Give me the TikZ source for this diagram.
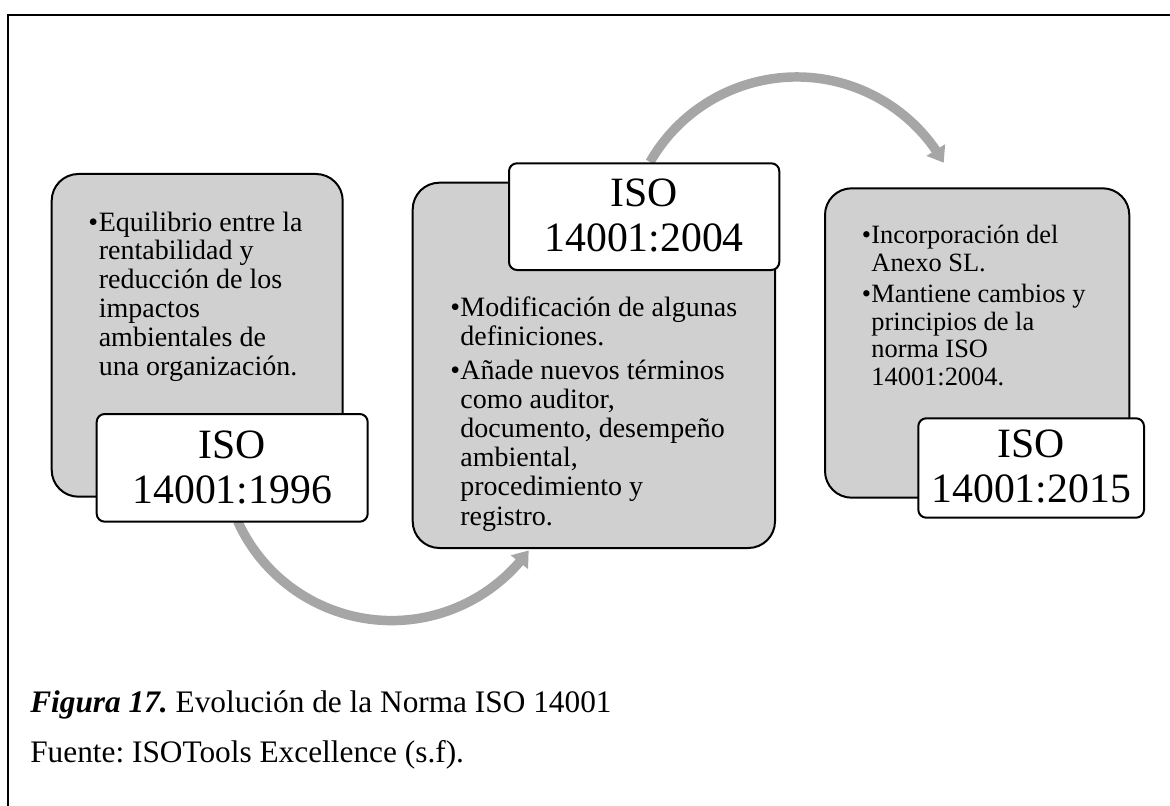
\documentclass[tikz,border=0pt]{standalone}
\usepackage{fontspec}
\setmainfont{Liberation Serif}
\usetikzlibrary{arrows.meta,calc,fit,bending}
\frenchspacing

\definecolor{panelfill}{RGB}{208,208,208}
\definecolor{flowgray}{RGB}{166,166,166}

\pgfdeclarelayer{behind}
\pgfsetlayers{behind,main}

% bullet marker and hanging indent for the panel texts
\newlength\bulw
\newcommand\bul{\makebox[\bulw][l]{\textbullet}}
\newcommand\ind{\hspace*{\bulw}}

\begin{document}
\begin{tikzpicture}[x=0.75pt,y=-0.75pt,
  panel/.style={draw=black, line width=1.5pt, fill=panelfill,
    rounded corners=20pt, inner sep=0pt, outer sep=0pt},
  tag/.style={draw=black, line width=1.5pt, fill=white,
    rounded corners=6pt, inner sep=0pt, outer sep=0pt},
  tagtext/.style={anchor=base, inner sep=0pt, align=center,
    font=\fontsize{31.3pt}{33.75pt}\selectfont},
  body/.style={anchor=base west, inner sep=0pt, align=left,
    font=\fontsize{21pt}{21.6pt}\selectfont\setlength\bulw{7.9pt}},
  bodywide/.style={anchor=base west, inner sep=0pt, align=left,
    font=\fontsize{21pt}{21.9pt}\selectfont\setlength\bulw{7.6pt}},
  bodysmall/.style={anchor=base west, inner sep=0pt, align=left,
    font=\fontsize{19.8pt}{20.6pt}\selectfont\setlength\bulw{7.1pt}},
  caption/.style={anchor=base west, inner sep=0pt,
    font=\fontsize{23.5pt}{28pt}\selectfont},
  flow/.style={draw=flowgray, line width=7.1pt,
    -{Triangle[length=11.25pt,width=15.75pt]}}]

\useasboundingbox (0,0) rectangle (1170,806);

% page frame
\draw[line width=1.5pt] (8,806) -- (8,15) -- (1170,15);

% panels
\node[panel, fit={(51.7,174) (342.7,496.7)}] (p1) {};
\node[panel, fit={(412.7,182.7) (775,548)}] (p2) {};
\node[panel, fit={(825,188.3) (1129.3,497.7)}] (p3) {};

% panel texts (placed by the baseline of their last line)
\node[body] (t1) at (88,375) {\bul Equilibrio entre la\\
  \ind rentabilidad y\\
  \ind reducción de los\\
  \ind impactos\\
  \ind ambientales de\\
  \ind una organización.};

\node[bodywide] (t2) at (450,525) {\bul Modificación de algunas\\
  \ind definiciones.\\[3pt]
  \bul Añade nuevos términos\\
  \ind como auditor,\\
  \ind documento, desempeño\\
  \ind ambiental,\\
  \ind procedimiento y\\
  \ind registro.};

\node[bodysmall] (t3) at (861.7,385) {\bul Incorporación del\\
  \ind Anexo SL.\\[3pt]
  \bul Mantiene cambios y\\
  \ind principios de la\\
  \ind norma ISO\\
  \ind 14001:2004.};

% version tags
\node[tag, fit={(96.7,414) (367.7,521.7)}] (l1) {};
\node[tag, fit={(509,163.3) (779.3,270)}] (l2) {};
\node[tag, fit={(918.3,418.3) (1144,517.7)}] (l3) {};
\node[tagtext] (l1x) at (l1.center |- 0,503) {ISO\\14001:1996};
\node[tagtext] (l2x) at (l2.center |- 0,251.7) {ISO\\14001:2004};
\node[tagtext] (l3x) at (l3.center |- 0,502.7) {ISO\\14001:2015};

% flow arcs between the stages, kept behind the boxes
\begin{pgfonlayer}{behind}
\draw[flow] ($(l1.south)+(5.4,-0.6)$) arc[start angle=155.7, end angle=35.8, radius=169];
\draw[flow] ($(l2.north)+(5.85,-1.3)$) arc[start angle=209.8, end angle=330.5, radius=169];
\end{pgfonlayer}

% caption
\node[caption] (cap) at (30,712.5) {\textbf{\textit{Figura 17.}} Evolución de la Norma ISO 14001};
\node[caption] (src) at (30,762) {Fuente: ISOTools Excellence (s.f).};

\end{tikzpicture}
\end{document}
